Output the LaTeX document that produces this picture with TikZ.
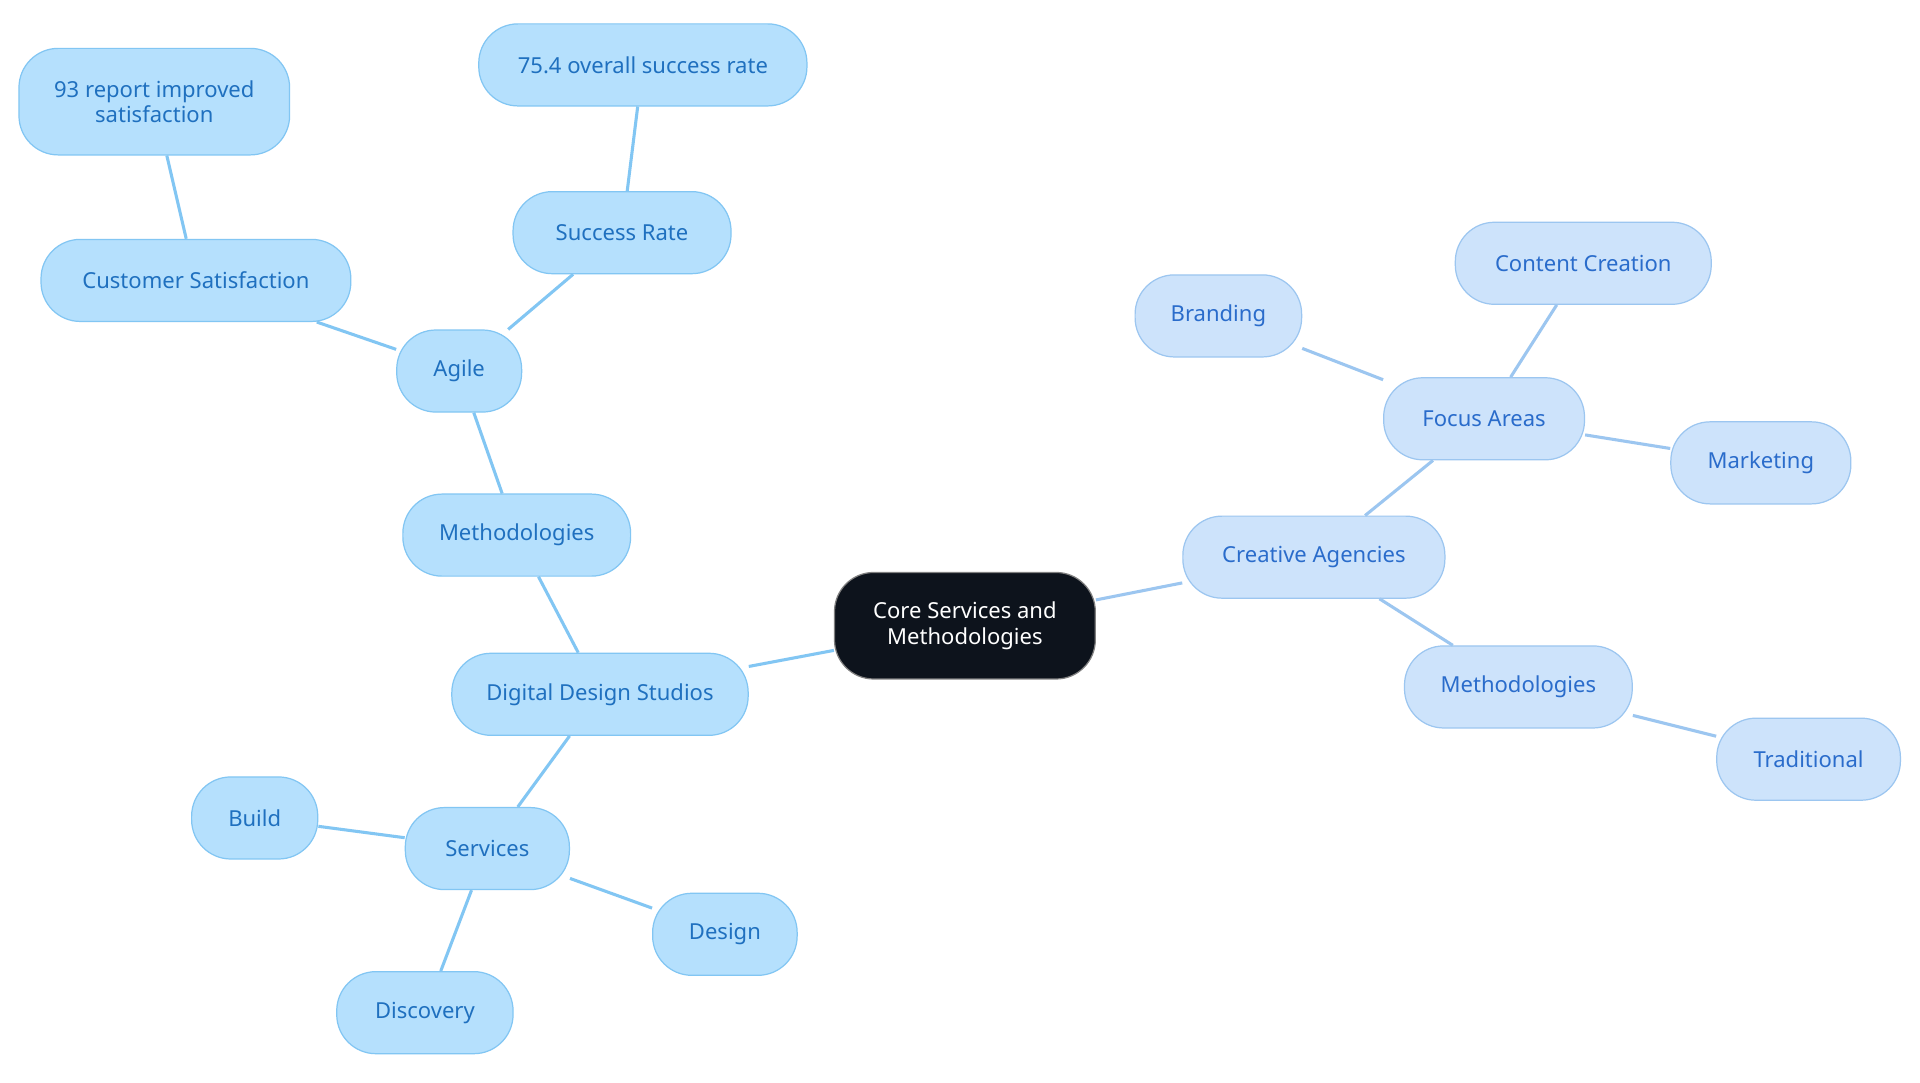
\documentclass[tikz,border=0pt]{standalone}
\usepackage{fontspec}
\setmainfont{Noto Sans}
\definecolor{lfill}{HTML}{B5E0FD}
\definecolor{ldraw}{HTML}{82C6F3}
\definecolor{ltext}{HTML}{1F70BF}
\definecolor{rfill}{HTML}{CDE3FB}
\definecolor{rdraw}{HTML}{9CC6F0}
\definecolor{rtext}{HTML}{2A6CCB}
\definecolor{cfill}{HTML}{0D131C}
\begin{document}
\begin{tikzpicture}[x=1pt,y=-1pt,
 box/.style={rounded corners=32pt,minimum height=67pt,inner sep=0pt,align=center,font=\fontsize{18}{21}\selectfont,line width=1pt},
 lb/.style={box,fill=lfill,draw=ldraw,text=ltext},
 rb/.style={box,fill=rfill,draw=rdraw,text=rtext},
 le/.style={draw=ldraw,line width=2.5pt},
 re/.style={draw=rdraw,line width=2.5pt}]
\fill[white] (0,0) rectangle (1568,884);
\node[box,fill=cfill,draw=gray,text=white,minimum width=213pt,minimum height=87pt] (c) at (788,511) {Core Services and\\Methodologies};
\node[lb,minimum width=242pt] (dds) at (490,567) {Digital Design Studios};
\node[lb,minimum width=186pt] (ml) at (422,437) {Methodologies};
\node[lb,minimum width=102pt] (ag) at (375,303) {Agile};
\node[lb,minimum width=178pt] (sr) at (508,190) {Success Rate};
\node[lb,minimum width=268pt] (sr2) at (525,53) {75.4 overall success rate};
\node[lb,minimum width=253pt] (cs) at (160,229) {Customer Satisfaction};
\node[lb,minimum width=221pt,minimum height=87pt] (cs2) at (126,83) {93 report improved\\satisfaction};
\node[lb,minimum width=134pt] (sv) at (398,693) {Services};
\node[lb,minimum width=103pt] (bu) at (208,668) {Build};
\node[lb,minimum width=118pt] (de) at (592,763) {Design};
\node[lb,minimum width=144pt] (di) at (347,827) {Discovery};
\node[rb,minimum width=214pt] (ca) at (1073,455) {Creative Agencies};
\node[rb,minimum width=164pt] (fa) at (1212,342) {Focus Areas};
\node[rb,minimum width=136pt] (br) at (995,258) {Branding};
\node[rb,minimum width=209pt] (cc) at (1293,215) {Content Creation};
\node[rb,minimum width=147pt] (mk) at (1438,378) {Marketing};
\node[rb,minimum width=186pt] (mr) at (1240,561) {Methodologies};
\node[rb,minimum width=150pt] (tr) at (1477,620) {Traditional};
\begin{scope}[on background layer/.style={}]
\end{scope}
\draw[le] (c) -- (dds);
\draw[le] (dds) -- (ml);
\draw[le] (ml) -- (ag);
\draw[le] (ag) -- (sr);
\draw[le] (sr) -- (sr2);
\draw[le] (ag) -- (cs);
\draw[le] (cs) -- (cs2);
\draw[le] (dds) -- (sv);
\draw[le] (sv) -- (bu);
\draw[le] (sv) -- (de);
\draw[le] (sv) -- (di);
\draw[re] (c) -- (ca);
\draw[re] (ca) -- (fa);
\draw[re] (fa) -- (br);
\draw[re] (fa) -- (cc);
\draw[re] (fa) -- (mk);
\draw[re] (ca) -- (mr);
\draw[re] (mr) -- (tr);
\end{tikzpicture}
\end{document}
